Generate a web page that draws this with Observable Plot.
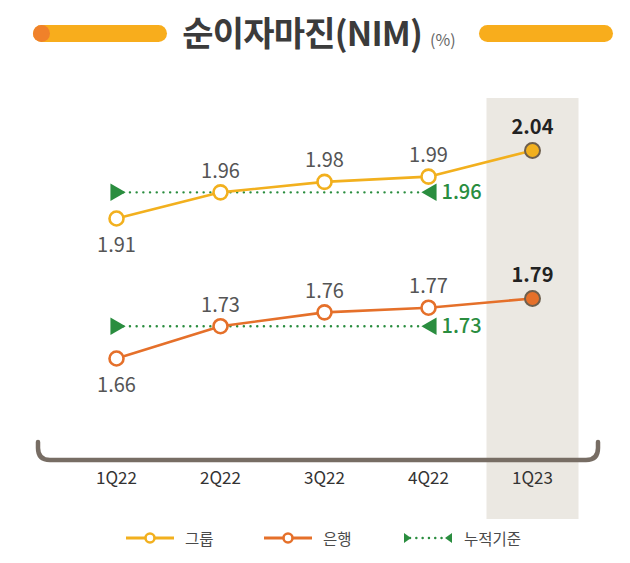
<!DOCTYPE html>
<html>
<head>
<meta charset="utf-8">
<script src="https://cdn.jsdelivr.net/npm/d3@7"></script>
<script src="https://cdn.jsdelivr.net/npm/@observablehq/plot@0.6"></script>
<style>
  html, body { margin: 0; padding: 0; background: #ffffff; }
  body { width: 630px; height: 563px; overflow: hidden; font-family: "Noto Sans CJK KR", "Noto Sans", sans-serif; }
  #title { position: relative; height: 80px; width: 630px; }
  .bar { position: absolute; top: 25px; height: 17px; border-radius: 9px; background: #f8ad1c; }
  .dotend { position: absolute; top: 25px; height: 17px; width: 17px; border-radius: 50%; background: #f0812a; }
  #ttext { position: absolute; left: 0; width: 630px; top: 7px; text-align: center; white-space: nowrap; padding-left: 4px; }
  #ttext .main { font-size: 34px; font-weight: 700; color: #3b3b3b; letter-spacing: -0.8px; }
  #ttext .unit { font-size: 16px; font-weight: 400; color: #666; margin-left: 8px; }
  #legend { position: relative; height: 38px; width: 630px; }
  .li { position: absolute; top: 3px; height: 20px; display: flex; align-items: center; font-size: 15.5px; color: #4a4a4a; }
  .li svg { margin-right: 10px; }
</style>
</head>
<body>
<div id="title">
  <div class="bar" style="left:33px;width:134px"></div>
  <div class="dotend" style="left:33px"></div>
  <div class="bar" style="left:479px;width:134px"></div>
  <div id="ttext"><span class="main">순이자마진(NIM)</span><span class="unit">(%)</span></div>
</div>
<div id="chart"></div>
<div id="legend"></div>
<script>
// ---- data ----
const quarters = ["1Q22", "2Q22", "3Q22", "4Q22", "1Q23"];
const groupNIM = [1.91, 1.96, 1.98, 1.99, 2.04];
const bankNIM = [1.66, 1.73, 1.76, 1.77, 1.79];
const cumQuarters = ["1Q22", "4Q22"];
const groupCum = 1.96;
const bankCum = 1.73;
const seriesNames = ["그룹", "은행", "누적기준"];

// ---- styles ----
const cGroup = "#f2b01e";
const cBank = "#e5702a";
const cGreen = "#2a8d3f";
const cBand = "#ebe8e2";
const lastQ = quarters[quarters.length - 1];
const firstQ = quarters[0];

const rows = (vals, s) => quarters.map((q, i) => ({q, v: vals[i], s, last: q === lastQ, first: q === firstQ}));
const group = rows(groupNIM, "그룹");
const bank = rows(bankNIM, "은행");
const both = [...group, ...bank];
const cum = [
  ...cumQuarters.map((q, i) => ({q, v: groupCum, s: "g", end: i === 1})),
  ...cumQuarters.map((q, i) => ({q, v: bankCum, s: "b", end: i === 1}))
];

const fontNum = "'Noto Sans CJK KR', 'Noto Sans', sans-serif";
const fmt = d => d.v.toFixed(2);

const chart = Plot.plot({
  width: 630,
  height: 445,
  marginTop: 18,
  marginBottom: 6,
  marginLeft: 0,
  marginRight: 0,
  x: {type: "point", domain: quarters, range: [114, 533], padding: 0, axis: null},
  y: {type: "linear", domain: [1.66, 1.79, 1.91, 2.04], range: [278, 218, 138, 70], axis: null},
  style: {fontFamily: fontNum, background: "transparent"},
  marks: [
    Plot.ruleX([lastQ], {x: d => d, stroke: cBand, strokeWidth: 92}),
    // cumulative (dotted green)
    Plot.line(cum, {x: "q", y: "v", z: "s", stroke: cGreen, strokeWidth: 2.4, strokeDasharray: "0.1,6.6", strokeLinecap: "round"}),
    Plot.dot(cum.filter(d => !d.end), {x: "q", y: "v", symbol: "triangle", r: 6.5, fill: cGreen, rotate: 90, dx: -1}),
    Plot.dot(cum.filter(d => d.end), {x: "q", y: "v", symbol: "triangle", r: 6.5, fill: cGreen, rotate: -90, dx: 3}),
    Plot.text(cum.filter(d => d.end), {x: "q", y: "v", text: fmt, fill: cGreen, fontSize: 20, fontWeight: 500, textAnchor: "start", dx: 13}),
    // series lines
    Plot.line(group, {x: "q", y: "v", stroke: cGroup, strokeWidth: 2.6}),
    Plot.line(bank, {x: "q", y: "v", stroke: cBank, strokeWidth: 2.6}),
    // open markers
    Plot.dot(group.filter(d => !d.last), {x: "q", y: "v", r: 7, fill: "white", stroke: cGroup, strokeWidth: 2.6}),
    Plot.dot(bank.filter(d => !d.last), {x: "q", y: "v", r: 7, fill: "white", stroke: cBank, strokeWidth: 2.6}),
    // last (filled) markers
    Plot.dot(group.filter(d => d.last), {x: "q", y: "v", r: 7.5, fill: cGroup, stroke: "#6e5f4d", strokeWidth: 2}),
    Plot.dot(bank.filter(d => d.last), {x: "q", y: "v", r: 7.5, fill: cBank, stroke: "#6e5f4d", strokeWidth: 2}),
    // value labels
    Plot.text(both.filter(d => d.first), {x: "q", y: "v", text: fmt, dy: 27, fill: "#555", fontSize: 20, fontWeight: 400}),
    Plot.text(both.filter(d => !d.first && !d.last), {x: "q", y: "v", text: fmt, dy: -21, fill: "#555", fontSize: 20, fontWeight: 400}),
    Plot.text(both.filter(d => d.last), {x: "q", y: "v", text: fmt, dy: -23, fill: "#222", fontSize: 20, fontWeight: 700}),
    // category labels
    Plot.text(quarters, {x: d => d, frameAnchor: "bottom", dy: -36, fill: "#333", fontSize: 17, fontWeight: 400})
  ]
});

// decorative bracket-shaped baseline
d3.select(chart).insert("path", ":scope > g:nth-of-type(2)")
  .attr("d", "M38,362 V368 Q38,380 50,380 H586 Q598,380 598,368 V362")
  .attr("fill", "none").attr("stroke", "#776d64").attr("stroke-width", 4.5).attr("stroke-linecap", "round");

document.getElementById("chart").appendChild(chart);

// ---- legend ----
const legend = document.getElementById("legend");
const items = [
  {name: seriesNames[0], left: 125, kind: "line", color: cGroup},
  {name: seriesNames[1], left: 263, kind: "line", color: cBank},
  {name: seriesNames[2], left: 402, kind: "cum", color: cGreen}
];
items.forEach(it => {
  const div = document.createElement("div");
  div.className = "li";
  div.style.left = it.left + "px";
  let sw;
  if (it.kind === "line") {
    sw = `<svg width="50" height="14"><line x1="1" y1="7" x2="49" y2="7" stroke="${it.color}" stroke-width="3"/><circle cx="25" cy="7" r="4.5" fill="white" stroke="${it.color}" stroke-width="2.6"/></svg>`;
  } else {
    sw = `<svg width="52" height="14"><line x1="8" y1="7" x2="44" y2="7" stroke="${it.color}" stroke-width="2.4" stroke-dasharray="0.1,6.2" stroke-linecap="round"/><path d="M2,2 L9,7 L2,12 Z" fill="${it.color}"/><path d="M50,2 L43,7 L50,12 Z" fill="${it.color}"/></svg>`;
  }
  div.innerHTML = sw + `<span>${it.name}</span>`;
  legend.appendChild(div);
});
</script>
</body>
</html>
